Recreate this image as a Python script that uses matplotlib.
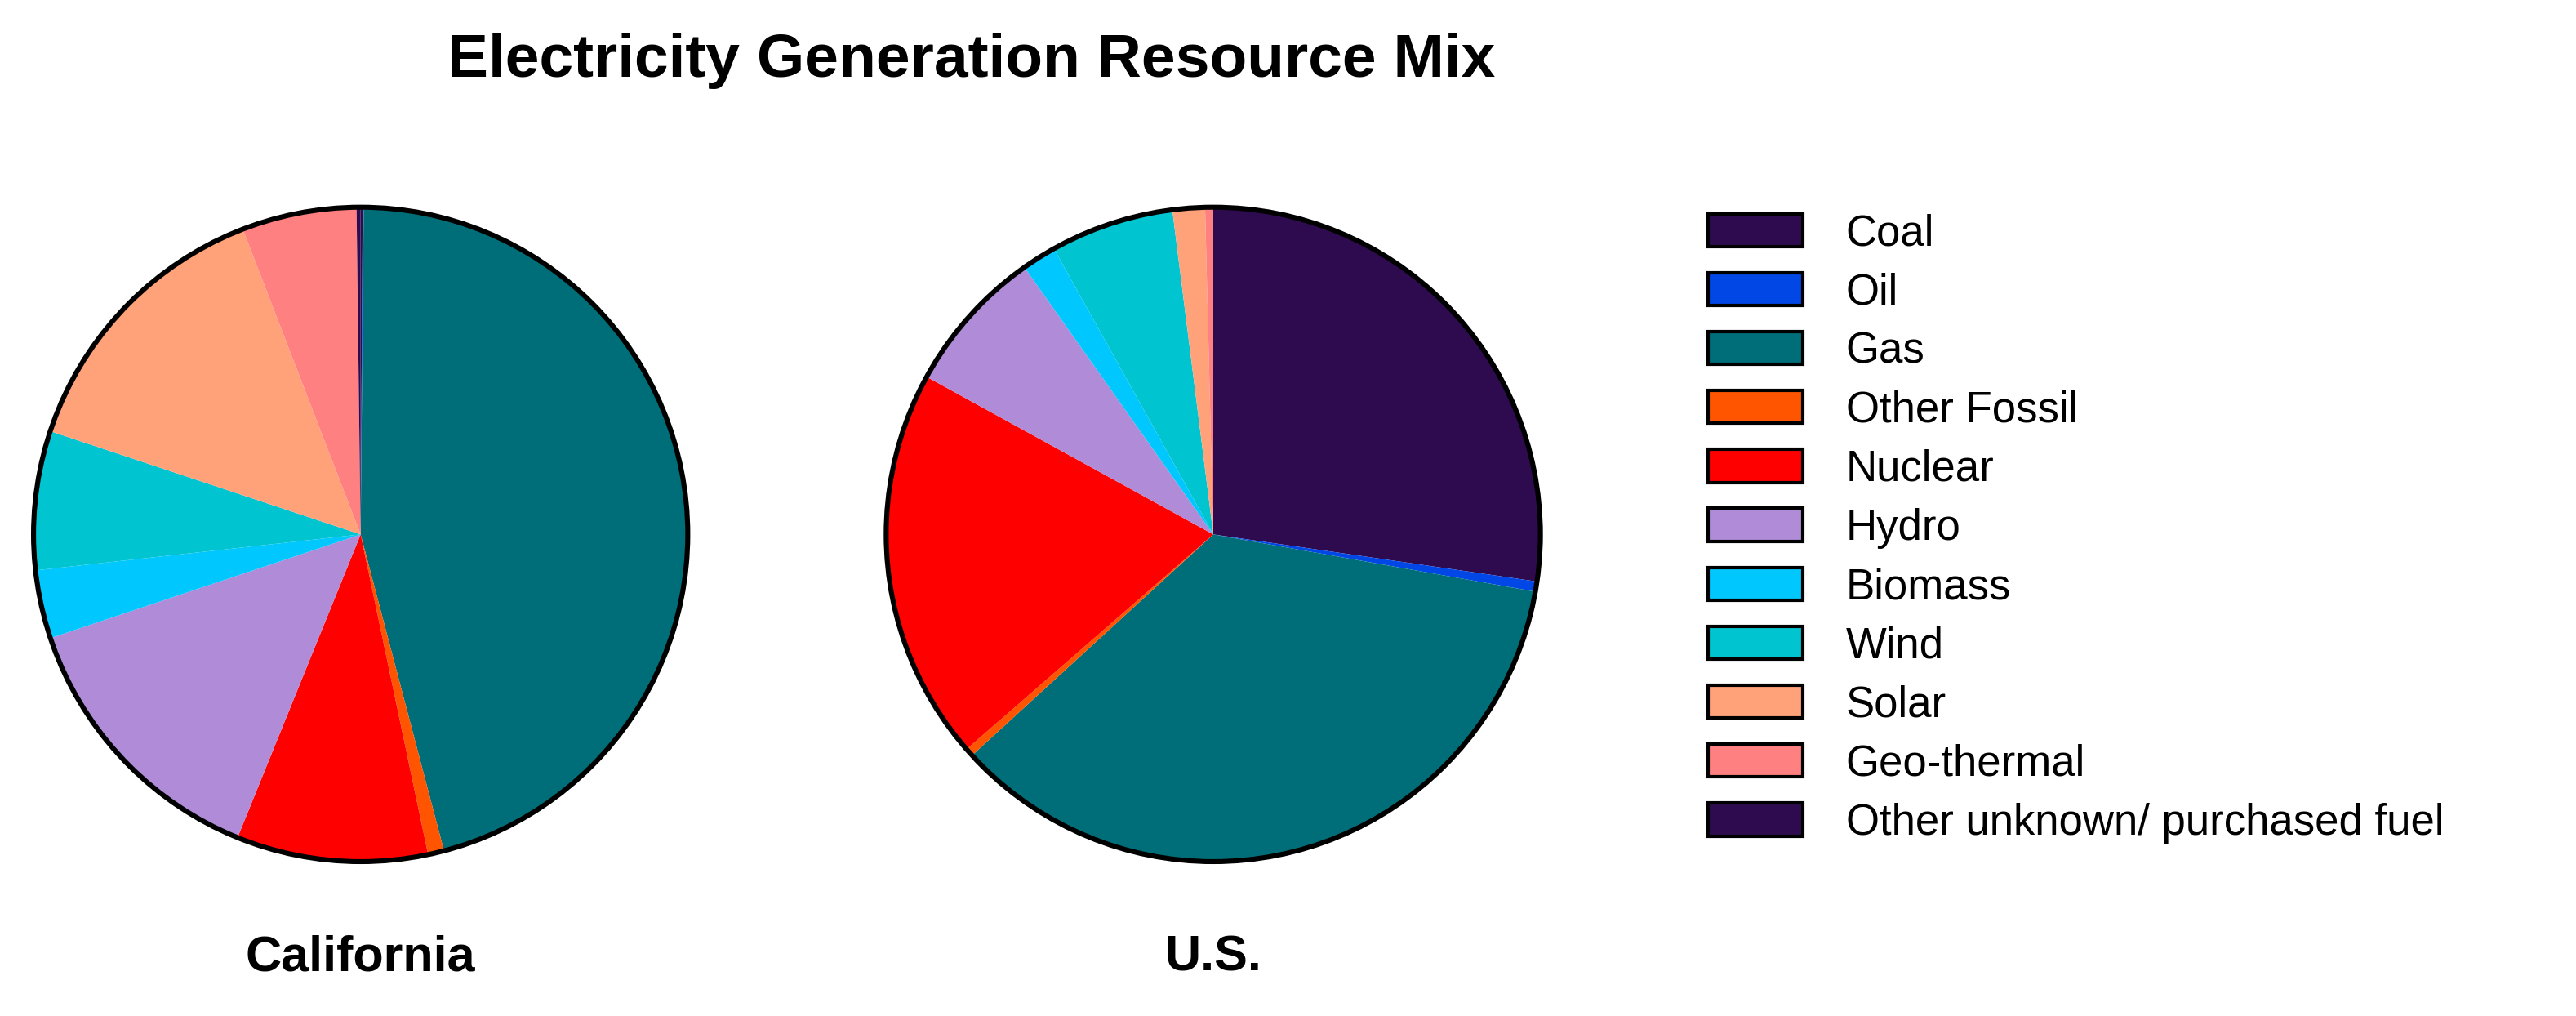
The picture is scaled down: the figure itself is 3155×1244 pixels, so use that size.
import matplotlib
matplotlib.use("Agg")
import matplotlib.pyplot as plt
from matplotlib.patches import Patch, Circle

plt.rcParams['font.family'] = ['Liberation Sans', 'DejaVu Sans']

categories = ["Coal", "Oil", "Gas", "Other Fossil", "Nuclear", "Hydro", "Biomass",
              "Wind", "Solar", "Geo-thermal", "Other unknown/ purchased fuel"]
california = [0.1, 0.05, 46.0, 0.8, 9.5, 13.8, 3.4, 6.9, 14.1, 5.7, 0.2]
us = [27.3, 0.5, 35.4, 0.4, 19.4, 7.2, 1.7, 6.1, 1.6, 0.4, 0.0]
colors = ["#2E0B4E", "#0047E6", "#006E78", "#FF5500", "#FF0000", "#B08CD8",
          "#00C8FF", "#00C5D0", "#FFA27A", "#FF8080", "#2E0B4E"]

fig = plt.figure(figsize=(15.775, 6.22), dpi=200)
fig.text(0.377, 0.94, "Electricity Generation Resource Mix", ha='center', va='center',
         fontsize=27, fontweight='bold')

h = 0.657
w = h * 6.22 / 15.775
for cx, vals, label in [(0.140, california, "California"), (0.471, us, "U.S.")]:
    ax = fig.add_axes([cx - w / 2, 0.474 - h / 2, w, h])
    ax.pie(vals, colors=colors, startangle=90, counterclock=False,
           wedgeprops=dict(linewidth=0))
    ax.add_patch(Circle((0, 0), 1, fill=False, edgecolor='black', linewidth=2.2))
    ax.set_xlim(-1.02, 1.02)
    ax.set_ylim(-1.02, 1.02)
    ax.set_aspect('equal')
    ax.axis('off')
    fig.text(cx, 0.057, label, ha='center', va='center', fontsize=22, fontweight='bold')

handles = [Patch(facecolor=c, edgecolor='black', linewidth=1.5, label=l)
           for c, l in zip(colors, categories)]
fig.legend(handles=handles, loc='center left', bbox_to_anchor=(0.648, 0.48),
           frameon=False, fontsize=19, handlelength=2.2, handleheight=0.8,
           labelspacing=0.42, handletextpad=1.0)

fig.savefig("out.png", dpi=200)
